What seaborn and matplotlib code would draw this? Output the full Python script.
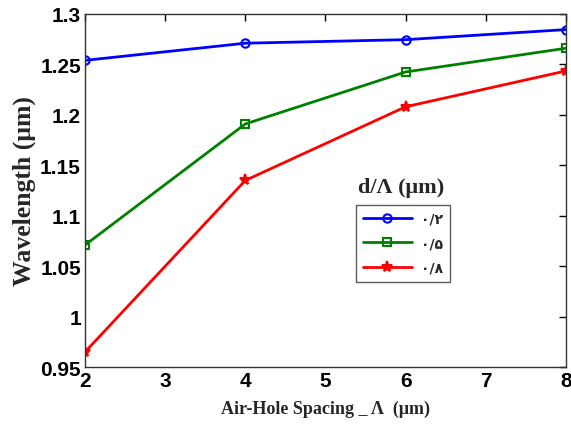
import matplotlib
matplotlib.use("Agg")
import matplotlib.pyplot as plt
import pandas as pd
import seaborn as sns

spacing = [2, 4, 6, 8]
wl_02 = [1.254, 1.271, 1.2745, 1.2845]
wl_05 = [1.071, 1.191, 1.2425, 1.266]
wl_08 = [0.965, 1.135, 1.208, 1.2435]
labels = ["۰/۲", "۰/۵", "۰/۸"]

df = pd.concat([
    pd.DataFrame({"spacing": spacing, "wl": vals, "ratio": lab})
    for vals, lab in zip([wl_02, wl_05, wl_08], labels)
])

sns.set_theme(style="white")
plt.rcParams["font.family"] = ["Liberation Sans", "DejaVu Sans"]

fig, ax = plt.subplots(figsize=(5.71, 4.27), dpi=100)
fig.subplots_adjust(left=0.149, right=0.991, top=0.965, bottom=0.138)

colors = ["#0000ff", "#008000", "#ff0000"]
markers = ["o", "s", "*"]
for lab, col, mk in zip(labels, colors, markers):
    sub = df[df["ratio"] == lab]
    filled = mk == "*"
    sns.lineplot(data=sub, x="spacing", y="wl", ax=ax, color=col, linewidth=2,
                 marker=mk, markersize=8 if filled else 6,
                 markerfacecolor=col if filled else "none",
                 markeredgecolor=col, markeredgewidth=1.5, label=lab)

ax.set_xlim(2, 8)
ax.set_ylim(0.95, 1.3)
ax.set_xticks(range(2, 9))
ax.set_yticks([0.95, 1, 1.05, 1.1, 1.15, 1.2, 1.25, 1.3])
ax.set_yticklabels(["0.95", "1", "1.05", "1.1", "1.15", "1.2", "1.25", "1.3"])
ax.tick_params(direction="in", length=5, top=True, right=True, labelsize=15,
               colors="black", width=1, pad=3)
for t in ax.get_xticklabels() + ax.get_yticklabels():
    t.set_fontweight("bold")
for s in ax.spines.values():
    s.set_color("#333333")
    s.set_linewidth(1)

ax.set_xlabel("Air-Hole Spacing _ Λ  (μm)", fontsize=13, fontweight="bold",
              family="Liberation Serif", labelpad=7)
ax.set_ylabel("Wavelength (μm)", fontsize=18.5, fontweight="bold",
              family="Liberation Serif", labelpad=3)

leg = ax.legend(loc="upper left", bbox_to_anchor=(0.549, 0.479), frameon=True,
                fancybox=False, edgecolor="#333333",
                prop={"family": ["DejaVu Sans"], "weight": "bold", "size": 10},
                handlelength=3.5, borderpad=0.5, labelspacing=0.75,
                handletextpad=0.7)
leg.get_frame().set_linewidth(1)
ax.text(0.657, 0.482, "d/Λ (μm)", transform=ax.transAxes, fontsize=16,
        fontweight="bold", family="Liberation Serif", ha="center", va="bottom")

fig.savefig("out.png", dpi=100)
